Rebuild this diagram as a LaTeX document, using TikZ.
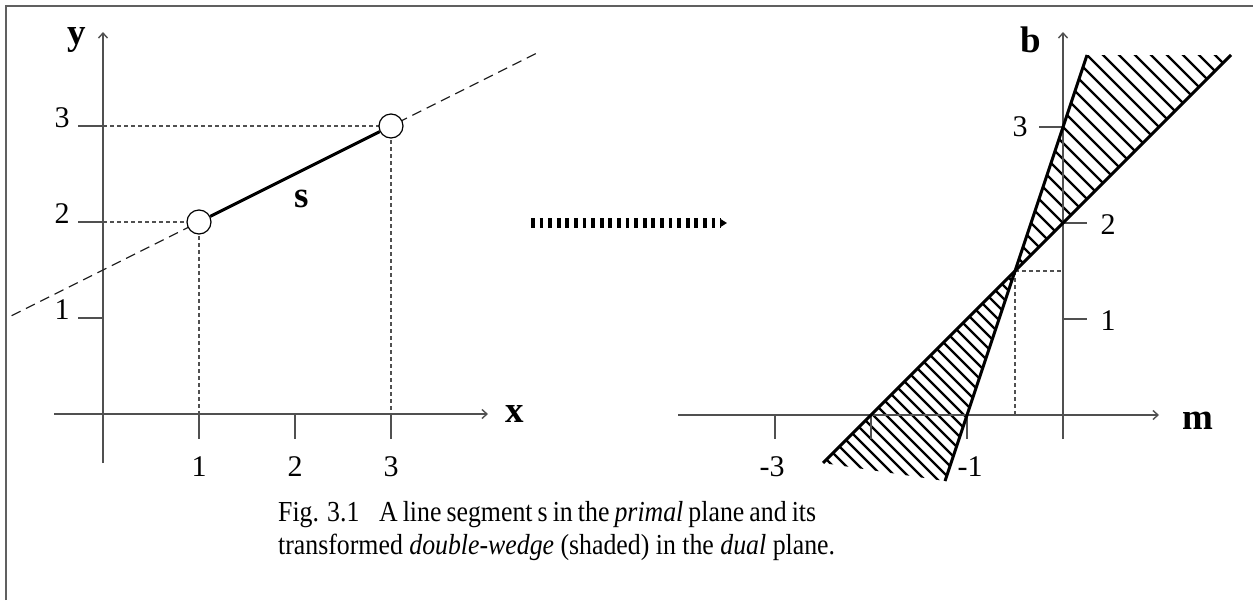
\documentclass[tikz,border=0pt]{standalone}
\usepackage{fontspec}
\setmainfont{Liberation Serif}
\newfontfamily\capfont[FakeStretch=0.89]{Liberation Serif}
\usetikzlibrary{arrows.meta,calc}
\definecolor{axgray}{HTML}{505050}
\definecolor{framegray}{HTML}{606060}
\begin{document}
\begin{tikzpicture}[x=1pt,y=-1pt,
  axis/.style={draw=axgray,line width=1.4pt,-{Straight Barb[length=5pt,width=9pt]}},
  tickline/.style={draw=axgray,line width=1.4pt},
  guide/.style={draw=axgray,line width=1.3pt,dash pattern=on 4pt off 3pt},
  longdash/.style={draw=black!85,line width=1.2pt,dash pattern=on 10pt off 6pt},
  num/.style={font=\fontsize{30}{30}\selectfont,inner sep=0pt},
  lab/.style={font=\fontsize{37}{37}\selectfont\bfseries,inner sep=0pt},
  endpt/.style={circle,draw=black,line width=1.2pt,fill=white,minimum size=24pt,inner sep=0pt},
  segline/.style={line width=3pt},
  wedgeline/.style={line width=3pt},
  hatchline/.style={line width=2.3pt},
  framestyle/.style={draw=framegray,line width=2pt},
  bigarrow/.style={line width=10pt,dash pattern=on 3.8pt off 4.8pt,-{Triangle[length=6pt,width=7pt]}},
  capt/.style={font=\capfont\fontsize{29}{29}\selectfont,inner sep=0pt,anchor=base west}
]
\useasboundingbox (0,0) rectangle (1253,600);
% frame
\coordinate (F1) at (6,600);
\coordinate (F2) at (6,6);
\coordinate (F3) at (1253,6);
\draw[framestyle] (F1) -- (F2) -- (F3);

% ---------------- left plot ----------------
\coordinate (Ybot) at (103,463);
\coordinate (Ytop) at (103,32);
\coordinate (Xl) at (54,414);
\coordinate (Xr) at (488,414);
\draw[axis] (Ybot) -- (Ytop);
\draw[axis] (Xl) -- (Xr);
% y ticks
\foreach \v/\yy in {1/318,2/222,3/126}{
  \coordinate (yt\v a) at (78,\yy);
  \coordinate (yt\v b) at (103,\yy);
  \draw[tickline] (yt\v a) -- (yt\v b);
  \node[num] (ylab\v) at (62,\yy-8) {\v};
}
% x ticks
\foreach \v/\xx in {1/199,2/295,3/391}{
  \coordinate (xt\v a) at (\xx,414);
  \coordinate (xt\v b) at (\xx,439);
  \draw[tickline] (xt\v a) -- (xt\v b);
  \node[num] (xlab\v) at (\xx,467) {\v};
}
\node[lab] (ylabel) at (77,40) {y};
\node[lab] (xlabel) at (515,414) {x};
% long dashed line
\coordinate (L1) at (11.6,315.7);
\coordinate (L2) at (535.8,53.6);
\draw[longdash] (L1) -- (L2);
% guides
\coordinate (P1) at (199,222);
\coordinate (P2) at (391,126);
\draw[guide] (yt2b) -- (P1);
\draw[guide] (yt3b) -- (P2);
\draw[guide] (P1) -- (xt1a);
\draw[guide] (P2) -- (xt3a);
% endpoints and segment
\node[endpt] (c1) at (P1) {};
\node[endpt] (c2) at (P2) {};
\draw[segline] (c1) -- (c2);
\node[lab] (slabel) at (302,199) {s};

% ---------------- middle arrow ----------------
\coordinate (M1) at (531,223);
\coordinate (M2) at (727,223);
\draw[bigarrow] (M1) -- (M2);

% ---------------- right plot ----------------
\coordinate (Bbotax) at (1063,439);
\coordinate (Btopax) at (1063,32);
\coordinate (Ml) at (678,415);
\coordinate (Mr) at (1159,415);
% wedge points
\coordinate (P) at (1015,271);
\coordinate (Atop) at (1087,55);
\coordinate (Btop) at (1231,55);
\coordinate (Abot) at (945,481);
\coordinate (Bbot) at (823,463);
% hatching
\begin{scope}
  \clip (P) -- (Atop) -- (Btop) -- cycle;
  \foreach \c in {-432,-416,...,0}{
    \draw[hatchline] ($(P)+(-300,{\c-300})$) -- ($(P)+(300,{\c+300})$);
  }
\end{scope}
\begin{scope}
  \clip (P) -- (Abot) -- (Bbot) -- cycle;
  \foreach \c in {0,13,...,390}{
    \draw[hatchline] ($(P)+(-300,{\c-300})$) -- ($(P)+(300,{\c+300})$);
  }
\end{scope}
% axes
\draw[axis] (Bbotax) -- (Btopax);
\draw[axis] (Ml) -- (Mr);
% b ticks
\coordinate (bt3a) at (1039,127);
\coordinate (bt3b) at (1063,127);
\coordinate (bt2a) at (1063,223);
\coordinate (bt2b) at (1087,223);
\coordinate (bt1a) at (1063,319);
\coordinate (bt1b) at (1087,319);
\draw[tickline] (bt3a) -- (bt3b);
\draw[tickline] (bt2a) -- (bt2b);
\draw[tickline] (bt1a) -- (bt1b);
\node[num] (blab3) at (1020,127) {3};
\node[num] (blab2) at (1108,225) {2};
\node[num] (blab1) at (1108,321) {1};
% m ticks
\foreach \v/\xx in {3/775,2/871,1/967}{
  \coordinate (mt\v a) at (\xx,415);
  \coordinate (mt\v b) at (\xx,439);
  \draw[tickline] (mt\v a) -- (mt\v b);
}
\node[num] (mlab3) at (772,467) {-3};
\node[num] (mlab1) at (970,467) {-1};
\node[lab] (blabel) at (1031,40) {b};
\node[lab] (mlabel) at (1198,421) {m};
% guides from intersection
\coordinate (Ph) at (1063,271);
\coordinate (Pv) at (1015,415);
\draw[guide] (P) -- (Ph);
\draw[guide] (P) -- (Pv);
% wedge lines
\draw[wedgeline] (Abot) -- (Atop);
\draw[wedgeline] (Bbot) -- (Btop);

% ---------------- caption ----------------
\node[capt] (cap1) at (278,521) {\hbox to 538pt{Fig. 3.1\hspace{0.5em} A line segment s in the \textit{primal} plane and its}};
\node[capt] (cap2) at (278,554) {transformed \textit{double-wedge} (shaded) in the \textit{dual} plane.};
\end{tikzpicture}
\end{document}
